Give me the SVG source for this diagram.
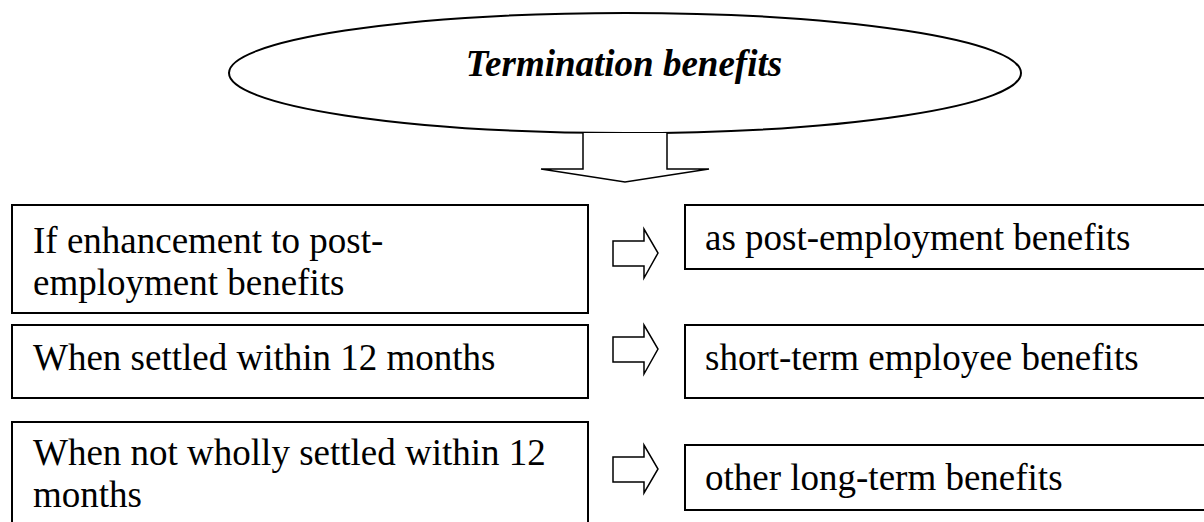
<svg xmlns="http://www.w3.org/2000/svg" width="1204" height="522" viewBox="0 0 1204 522">
<style>
.box{fill:#fff;stroke:#000;stroke-width:2}
.arr{fill:#fff;stroke:#000;stroke-width:1.5;stroke-linejoin:miter}
.t{font-family:'Liberation Serif','Times New Roman',Tinos,'DejaVu Serif',serif;font-size:37px;fill:#000}
.title{font-family:'Liberation Serif','Times New Roman',Tinos,'DejaVu Serif',serif;font-size:37px;font-weight:bold;font-style:italic;fill:#000}
</style>
<rect width="1204" height="522" fill="#fff"/>
<g id="title">
<ellipse cx="625" cy="73" rx="396" ry="60" fill="#fff" stroke="#000" stroke-width="2"/>
<text class="title" x="624" y="76" text-anchor="middle" font-family="Liberation Serif, serif">Termination benefits</text>
</g>
<g id="connectors">
<path class="arr" d="M583,133 V169 H541 L625,182 L709,169 H667 V133"/>
<path class="arr" d="M613,241 H644 V229 L658,253 L644,278 V266 H613 Z"/>
<path class="arr" d="M613,337 H644 V325 L658,349 L644,374 V362 H613 Z"/>
<path class="arr" d="M613,457 H644 V445 L658,469 L644,493 V482 H613 Z"/>
</g>
<g id="cond1">
<rect class="box" x="12" y="205" width="576" height="108"/>
<text class="t" x="33" y="253" font-family="Liberation Serif, serif">If enhancement to post-</text>
<text class="t" x="33" y="295" font-family="Liberation Serif, serif">employment benefits</text>
</g>
<g id="cond2">
<rect class="box" x="12" y="325" width="576" height="73"/>
<text class="t" x="33" y="370" font-family="Liberation Serif, serif">When settled within 12 months</text>
</g>
<g id="cond3">
<rect class="box" x="12" y="422" width="576" height="110"/>
<text class="t" x="33" y="465" font-family="Liberation Serif, serif">When not wholly settled within 12</text>
<text class="t" x="33" y="507" font-family="Liberation Serif, serif">months</text>
</g>
<g id="res1">
<rect class="box" x="685" y="205" width="530" height="64"/>
<text class="t" x="705" y="250" font-family="Liberation Serif, serif">as post-employment benefits</text>
</g>
<g id="res2">
<rect class="box" x="685" y="325" width="530" height="73"/>
<text class="t" x="705" y="370" font-family="Liberation Serif, serif">short-term employee benefits</text>
</g>
<g id="res3">
<rect class="box" x="685" y="445" width="530" height="65"/>
<text class="t" x="705" y="490" font-family="Liberation Serif, serif">other long-term benefits</text>
</g>
</svg>
